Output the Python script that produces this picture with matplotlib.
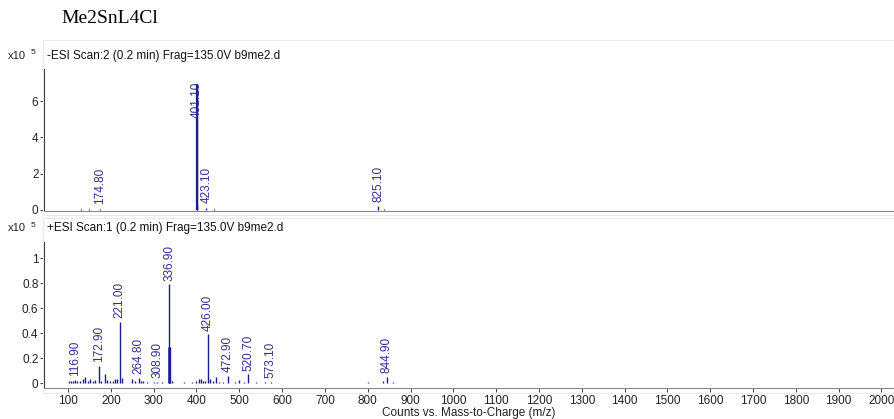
import matplotlib.pyplot as plt
from matplotlib.patches import Rectangle

plt.rcParams['font.family'] = ['Liberation Sans', 'DejaVu Sans']

# negative mode scan (x10^5 counts)
neg_mz = [105, 130, 150, 174.8, 185, 220, 250, 401.1, 402.1, 423.1, 440, 460, 480, 720, 825.1, 838]
neg_int = [0.02, 0.03, 0.03, 0.05, 0.02, 0.02, 0.02, 6.93, 0.25, 0.12, 0.03, 0.02, 0.02, 0.02, 0.2, 0.03]
neg_labels = {174.8: "174.80", 423.1: "423.10", 825.1: "825.10"}

# positive mode scan (x10^5 counts)
pos_mz = [103, 108, 112, 116.9, 122, 128, 134, 140, 146, 152, 158, 164, 172.9, 178, 186, 192,
          198, 204, 210, 215, 221.0, 226, 250, 256, 264.8, 270, 276, 284, 300, 308.9, 320,
          336.9, 338.5, 344, 370, 390, 400, 405, 410, 415, 420, 426.0, 432, 438, 445, 452,
          462, 472.9, 490, 500, 510, 520.7, 540, 560, 573.1, 600, 640, 680, 720, 760,
          800, 836, 844.9, 860, 900]
pos_int = [0.02, 0.015, 0.02, 0.025, 0.02, 0.02, 0.03, 0.05, 0.02, 0.03, 0.02, 0.025, 0.14, 0.02,
           0.07, 0.025, 0.02, 0.02, 0.03, 0.035, 0.49, 0.04, 0.035, 0.015, 0.04, 0.02, 0.015,
           0.01, 0.005, 0.01, 0.005, 0.79, 0.29, 0.02, 0.005, 0.01, 0.02, 0.03, 0.03, 0.02,
           0.02, 0.39, 0.03, 0.02, 0.05, 0.01, 0.01, 0.06, 0.005, 0.025, 0.01, 0.07, 0.005,
           0.01, 0.01, 0.004, 0.003, 0.003, 0.003, 0.003, 0.005, 0.02, 0.05, 0.005, 0.003]
pos_labels = {116.9: "116.90", 172.9: "172.90", 221.0: "221.00", 264.8: "264.80",
              308.9: "308.90", 336.9: "336.90", 426.0: "426.00", 472.9: "472.90",
              520.7: "520.70", 573.1: "573.10", 844.9: "844.90"}

x_ticks = list(range(100, 2001, 100))

line_col = "#1c1c8a"
lab_col = "#30308f"

fig = plt.figure(figsize=(8.95, 4.19), dpi=100)

# faint panel frames
for y0, h in [(0.487, 0.417), (0.062, 0.418)]:
    fig.patches.append(Rectangle((0.048, y0), 0.96, h, transform=fig.transFigure,
                                 fill=False, ec="#e6eaee", lw=0.8))

fig.text(0.069, 0.955, "Me2SnL4Cl", family="Liberation Serif", fontsize=14, va="center")

ax1 = fig.add_axes([0.0492, 0.4964, 0.95, 0.3388])
ax2 = fig.add_axes([0.0492, 0.074, 0.95, 0.3484])

def style(ax, ylim, yticks, yticklabels):
    ax.set_xlim(44, 2030)
    ax.set_ylim(*ylim)
    ax.set_yticks(yticks)
    ax.set_yticklabels(yticklabels)
    for s in ["top", "right"]:
        ax.spines[s].set_visible(False)
    ax.spines["left"].set_color("#333333")
    ax.spines["left"].set_linewidth(0.8)
    ax.spines["bottom"].set_color("#888888")
    ax.spines["bottom"].set_linewidth(0.8)
    ax.tick_params(axis="y", length=3, width=0.6, labelsize=8.5, pad=1, colors="#222222")

style(ax1, (-0.06, 7.76), [0, 2, 4, 6], ["0", "2", "4", "6"])
ax1.set_xticks([])
style(ax2, (-0.04, 1.13), [0, 0.2, 0.4, 0.6, 0.8, 1], ["0", "0.2", "0.4", "0.6", "0.8", "1"])
ax2.set_xticks(x_ticks)
ax2.tick_params(axis="x", length=3, width=0.6, labelsize=8.5, pad=2, colors="#222222")
ax2.set_xlabel("Counts vs. Mass-to-Charge (m/z)", fontsize=8.5, labelpad=0, color="#222222")

ax1.vlines(neg_mz, 0, neg_int, color=line_col, lw=1.0)
ax1.vlines([401.1], 0, [6.93], color=line_col, lw=1.6)
ax2.vlines(pos_mz, 0, pos_int, color=line_col, lw=1.0)
ax2.vlines([336.9], 0, [0.29], color=line_col, lw=1.8)

for mz, txt in neg_labels.items():
    h = neg_int[neg_mz.index(mz)]
    ax1.text(mz, h + 0.25, txt, rotation=90, ha="center", va="bottom", fontsize=8.5, color=lab_col)
ax1.text(401.1, 7.05, "401.10", rotation=90, ha="center", va="top", fontsize=8.5, color=lab_col)

for mz, txt in pos_labels.items():
    h = pos_int[pos_mz.index(mz)]
    ax2.text(mz, h + 0.03, txt, rotation=90, ha="center", va="bottom", fontsize=8.5, color=lab_col)

# panel headers
for ax, y, txt in [(ax1, 0.866, "-ESI Scan:2 (0.2 min) Frag=135.0V b9me2.d"),
                   (ax2, 0.455, "+ESI Scan:1 (0.2 min) Frag=135.0V b9me2.d")]:
    fig.text(0.009, y, "x10", fontsize=8, va="center", color="#222222")
    fig.text(0.034, y + 0.008, "5", fontsize=6, va="center", color="#222222")
    fig.text(0.053, y, txt, fontsize=8.5, va="center", color="#111111")

fig.savefig("out.png", dpi=100)
plt.close(fig)
